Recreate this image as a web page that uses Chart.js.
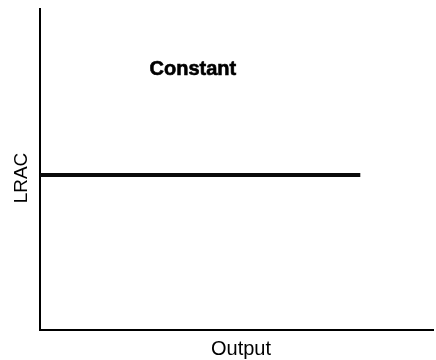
<!DOCTYPE html>
<html>
<head>
<meta charset="utf-8">
<script src="https://cdn.jsdelivr.net/npm/chart.js@4/dist/chart.umd.min.js"></script>
<style>
  html, body { margin: 0; padding: 0; background: #fff; overflow: hidden; }
  canvas { display: block; }
</style>
</head>
<body>
<canvas id="c" width="436" height="360"></canvas>
<script>
// Long-run average cost stays level as output grows
const outputLevels = [0, 81.5];
const lracValues = [48.2, 48.2];
const xTitle = 'Output';
const yTitle = 'LRAC';
const curveLabel = 'Constant';
const curveLabelAt = { x: 38.9, y: 79.3 };

const FONT = '"Liberation Sans", Arial, Helvetica, sans-serif';

// axis names and the curve label, placed against the plot area
const labels = {
  id: 'labels',
  afterDraw(chart) {
    const { ctx, chartArea: a, scales } = chart;
    ctx.save();
    ctx.fillStyle = '#000';
    ctx.strokeStyle = '#000';
    ctx.textAlign = 'center';
    ctx.textBaseline = 'alphabetic';

    // heavy bold for the curve label
    ctx.font = 'bold 20px ' + FONT;
    ctx.lineWidth = 0.6;
    const lx = scales.x.getPixelForValue(curveLabelAt.x);
    const ly = scales.y.getPixelForValue(curveLabelAt.y);
    ctx.fillText(curveLabel, lx, ly);
    ctx.strokeText(curveLabel, lx, ly);

    ctx.font = '20px ' + FONT;
    ctx.fillText(xTitle, a.left + 201, a.bottom + 25.5);

    ctx.font = '19px ' + FONT;
    ctx.translate(a.left - 12.7, a.top + 169);
    ctx.rotate(-Math.PI / 2);
    ctx.fillText(yTitle, 0, 0);
    ctx.restore();
  }
};

new Chart(document.getElementById('c'), {
  type: 'line',
  data: {
    datasets: [{
      data: outputLevels.map((x, i) => ({ x, y: lracValues[i] })),
      borderColor: '#0a0a0a',
      borderWidth: 4,
      borderCapStyle: 'butt',
      pointRadius: 0,
      tension: 0
    }]
  },
  options: {
    responsive: false,
    animation: false,
    devicePixelRatio: 1,
    layout: { padding: { top: 9, left: 40, right: 3, bottom: 30.5 } },
    plugins: { legend: { display: false }, tooltip: { enabled: false } },
    scales: {
      x: {
        type: 'linear', min: 0, max: 100,
        ticks: { display: false },
        grid: { display: true, drawOnChartArea: false, drawTicks: false },
        border: { display: true, color: '#000', width: 2 },
        title: { display: false, text: xTitle }
      },
      y: {
        type: 'linear', min: 0, max: 100,
        ticks: { display: false },
        grid: { display: true, drawOnChartArea: false, drawTicks: false },
        border: { display: true, color: '#000', width: 2 },
        title: { display: false, text: yTitle }
      }
    }
  },
  plugins: [labels]
});
</script>
</body>
</html>
